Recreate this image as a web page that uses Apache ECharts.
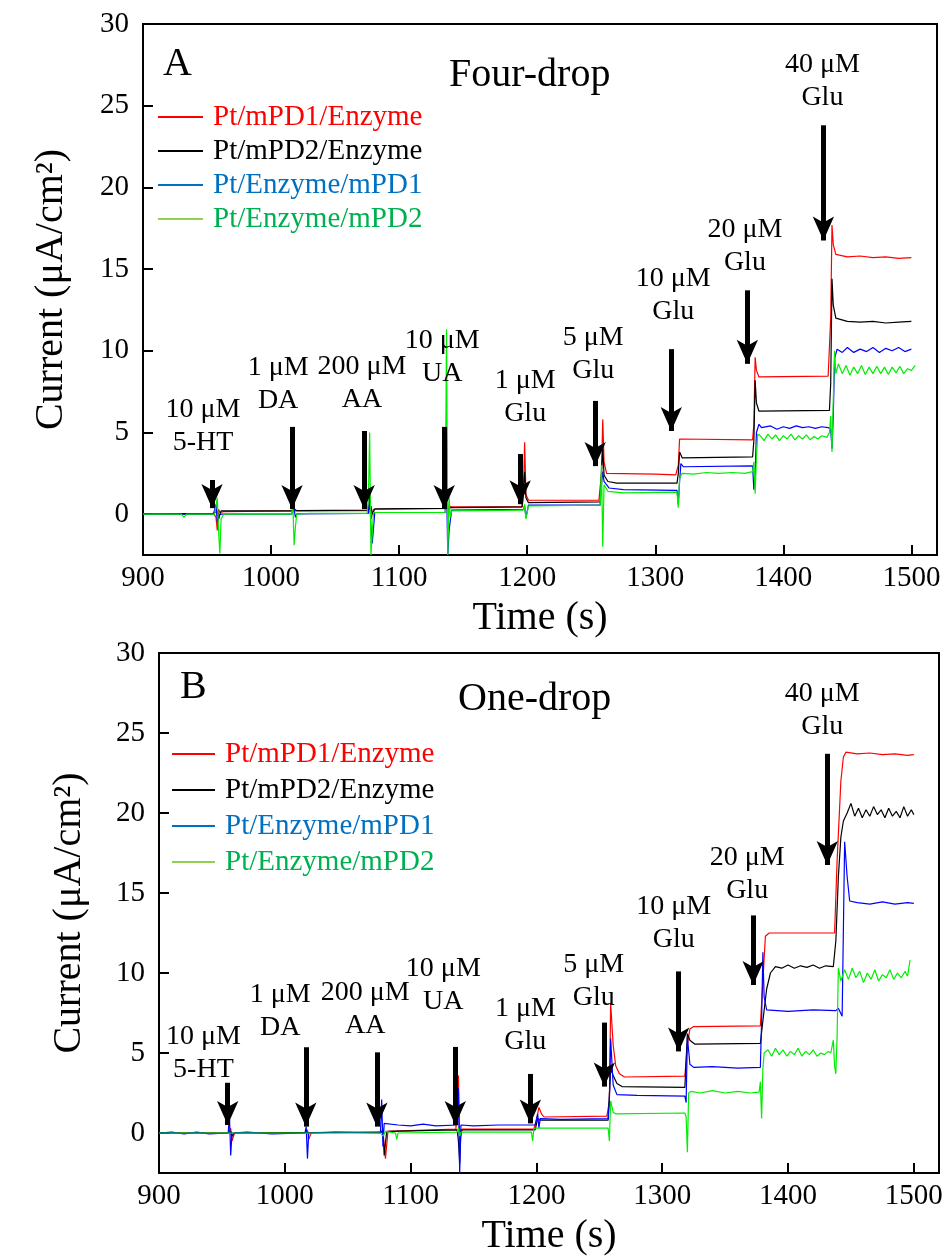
<!DOCTYPE html>
<html><head><meta charset="utf-8">
<script src="https://cdn.jsdelivr.net/npm/echarts@6/dist/echarts.min.js"></script>
<style>html,body{margin:0;padding:0;background:#fff}#c{width:946px;height:1258px}</style>
</head><body><div id="c"></div>
<script>
const FONT = "'Liberation Serif','Times New Roman',serif";
const seriesNames = ['Pt/mPD1/Enzyme', 'Pt/mPD2/Enzyme', 'Pt/Enzyme/mPD1', 'Pt/Enzyme/mPD2'];
const lineColors = ['#ff0000', '#000000', '#0000ff', '#00ee00'];
const legendLineColors = ['#ff0000', '#000000', '#0070c0', '#92d050'];
const legendTextColors = ['#ff0000', '#000000', '#0070c0', '#00b050'];
const xTicks = [900, 1000, 1100, 1200, 1300, 1400, 1500];
const yTicks = [0, 5, 10, 15, 20, 25, 30];
const panelTags = ['A', 'B'];
const panelTitles = ['Four-drop', 'One-drop'];

// Panel A (four-drop) traces: [time s, current µA/cm²]
const redA = [[900,0],[950,0],[955,0.05],[957,-0.2],[958,-1.0],[959,0.3],[960,0.1],[963,0.15],[1016,0.2],[1017,0.1],[1018,0.4],[1019,0.2],[1075,0.22],[1077,0.6],[1078,-0.3],[1080,0.3],[1135,0.35],[1136,0.6],[1137,5.3],[1138,-0.8],[1139,0.5],[1141,0.45],[1196,0.45],[1197,1.0],[1198,4.4],[1199,1.2],[1201,0.85],[1256,0.85],[1258,2.5],[1259,5.8],[1260,3.2],[1262,2.5],[1300,2.45],[1316,2.4],[1318,3.0],[1319,4.6],[1320,4.5],[1376,4.55],[1377,5.5],[1378,9.6],[1379,8.8],[1381,8.4],[1435,8.45],[1437,12],[1438,17.7],[1439,16.5],[1441,15.9],[1450,15.75],[1460,15.8],[1470,15.7],[1480,15.75],[1490,15.65],[1500,15.7]];
const blackA = [[900,0],[955,0.05],[958,0.2],[959,-0.3],[961,0.2],[1016,0.2],[1018,0.3],[1020,0.22],[1076,0.25],[1078,0.5],[1079,0],[1081,0.32],[1136,0.35],[1137,1.0],[1138,0.2],[1140,0.4],[1196,0.45],[1198,2.6],[1199,1.0],[1201,0.7],[1257,0.75],[1258,2.5],[1259,4.0],[1260,2.4],[1263,2.0],[1270,1.9],[1317,1.9],[1318,2.5],[1319,3.8],[1321,3.45],[1376,3.5],[1377,4.5],[1378,8.2],[1379,6.8],[1381,6.3],[1436,6.35],[1437,8],[1438,14.4],[1439,12.8],[1441,12.0],[1450,11.8],[1460,11.75],[1470,11.8],[1480,11.7],[1490,11.75],[1500,11.8]];
const blueA = [[900,0],[955,0],[957,0.6],[958,-0.5],[960,0],[1016,0],[1018,0.3],[1019,-0.2],[1020,0.02],[1076,0.05],[1077,1.2],[1078,-0.8],[1079,-1.8],[1081,0.1],[1136,0.1],[1137,2.0],[1138,-2.5],[1139,-1],[1141,0.25],[1197,0.3],[1198,0.5],[1199,-0.2],[1201,0.55],[1257,0.55],[1258,1.8],[1259,2.6],[1260,2.0],[1264,1.6],[1275,1.5],[1317,1.45],[1318,0.6],[1319,2.0],[1320,3.1],[1322,2.9],[1376,2.95],[1377,1.5],[1378,2.5],[1379,5.0],[1381,5.5],[1383,5.3],[1390,5.4],[1395,5.2],[1400,5.35],[1405,5.25],[1410,5.4],[1415,5.3],[1420,5.35],[1425,5.25],[1430,5.35],[1435,5.3],[1437,5.2],[1438,4.0],[1439,6],[1440,9.5],[1442,10.1],[1446,9.9],[1450,10.2],[1455,9.9],[1460,10.1],[1465,9.95],[1470,10.2],[1475,9.9],[1480,10.15],[1485,10.0],[1490,10.2],[1495,9.95],[1500,10.1]];
const greenA = [[900,0],[930,0],[932,-0.2],[934,0],[956,0],[958,1.0],[959,-1.0],[960,-2.4],[961,-0.3],[963,0],[1016,0],[1017,0.6],[1018,-1.9],[1019,-0.8],[1020,0],[1030,0.05],[1075,0.05],[1076,1.0],[1077,5.0],[1078,-2.5],[1079,-1.2],[1080,0.1],[1136,0.1],[1137,11.3],[1138,-2.5],[1139,1.0],[1140,-0.2],[1141,0.2],[1197,0.25],[1198,0.6],[1199,-0.3],[1201,0.5],[1257,0.55],[1258,3.0],[1259,-2.0],[1260,1.8],[1263,1.4],[1275,1.3],[1317,1.35],[1318,0.4],[1319,2.2],[1321,2.5],[1330,2.45],[1340,2.55],[1350,2.5],[1360,2.55],[1370,2.5],[1376,2.6],[1377,3.2],[1378,1.25],[1379,3.5],[1380,4.9],[1382,4.8],[1385,4.5],[1388,4.9],[1391,4.6],[1394,4.85],[1397,4.5],[1400,4.8],[1403,4.6],[1406,4.9],[1409,4.55],[1412,4.8],[1415,4.6],[1418,4.85],[1421,4.55],[1424,4.75],[1427,4.6],[1430,4.8],[1434,4.7],[1436,5.0],[1437,6],[1438,3.8],[1439,7.0],[1440,10.0],[1441,8.6],[1443,9.2],[1446,8.6],[1449,9.1],[1452,8.5],[1455,9.0],[1458,8.6],[1461,9.1],[1464,8.55],[1467,9.0],[1470,8.6],[1473,9.05],[1476,8.6],[1479,9.0],[1482,8.55],[1485,9.0],[1488,8.65],[1491,9.05],[1494,8.6],[1497,8.9],[1500,8.8],[1502,9.0],[1503,9.1]];

// Panel B (one-drop) traces
const redB = [[900,0],[955,0],[957,0.3],[958,-0.5],[960,0],[1016,0],[1018,0.2],[1019,-0.4],[1021,0],[1076,0.05],[1078,0.1],[1080,-1.6],[1082,0.1],[1100,0.15],[1136,0.25],[1138,3.6],[1139,-0.5],[1141,0.25],[1198,0.25],[1200,0.8],[1202,1.6],[1204,1.2],[1206,1.0],[1256,1.05],[1258,2.0],[1259,8.1],[1261,5.5],[1263,4.2],[1266,3.7],[1270,3.5],[1318,3.55],[1320,5.5],[1322,6.5],[1325,6.65],[1378,6.7],[1380,9.5],[1382,12.3],[1385,12.5],[1437,12.5],[1439,17],[1442,22],[1444,23.5],[1446,23.8],[1455,23.7],[1465,23.75],[1475,23.65],[1485,23.7],[1495,23.6],[1500,23.65]];
const blackB = [[900,0],[955,0],[957,0.1],[958,-0.2],[960,0],[1077,0.05],[1078,0.3],[1079,-1.4],[1081,0.1],[1137,0.2],[1138,-0.5],[1139,-1.9],[1140,0.2],[1199,0.2],[1201,0.9],[1203,0.8],[1257,0.8],[1259,4.0],[1261,3.6],[1264,3.1],[1268,2.9],[1318,2.85],[1320,6.2],[1322,5.8],[1326,5.55],[1378,5.6],[1380,7.0],[1383,9.0],[1386,10.0],[1390,10.4],[1395,10.3],[1400,10.5],[1405,10.3],[1410,10.45],[1415,10.35],[1420,10.5],[1425,10.3],[1430,10.45],[1436,10.4],[1438,12],[1440,16],[1442,18.5],[1444,19.5],[1447,20.0],[1450,20.6],[1453,19.8],[1456,20.3],[1459,19.7],[1462,20.2],[1465,19.8],[1468,20.4],[1471,19.9],[1474,20.2],[1477,19.7],[1480,20.3],[1483,19.8],[1486,20.1],[1489,19.7],[1492,20.4],[1495,19.8],[1498,20.2],[1500,19.9]];
const blueB = [[900,0],[910,0.05],[920,-0.05],[930,0.05],[940,-0.05],[955,0],[956,1.1],[957,-1.4],[958,0],[970,0.05],[990,-0.05],[1016,0],[1017,0.4],[1018,-1.6],[1019,0],[1040,0.05],[1076,0],[1077,2.1],[1078,-0.85],[1079,0.6],[1080,0.55],[1090,0.5],[1100,0.45],[1110,0.55],[1120,0.45],[1137,0.5],[1138,2.8],[1139,-2.5],[1140,0.5],[1150,0.45],[1170,0.5],[1199,0.5],[1200,0.4],[1201,1.2],[1202,0.3],[1203,0.9],[1220,0.85],[1257,0.9],[1258,2.0],[1259,5.9],[1261,3.0],[1264,2.4],[1280,2.35],[1318,2.3],[1319,1.9],[1320,6.0],[1322,4.3],[1325,4.1],[1340,4.15],[1360,4.05],[1378,4.1],[1379,7.0],[1380,11.3],[1381,8.5],[1383,7.7],[1400,7.6],[1420,7.7],[1438,7.65],[1440,7.8],[1443,7.3],[1445,18.2],[1447,16],[1449,14.5],[1455,14.4],[1465,14.3],[1475,14.45],[1485,14.3],[1495,14.4],[1500,14.35]];
const greenB = [[900,0],[1076,0],[1078,-0.2],[1080,0.1],[1088,0],[1089,-0.4],[1090,0],[1137,0.05],[1138,0.3],[1139,-0.2],[1140,0.05],[1196,0.05],[1197,-0.5],[1198,0.3],[1199,0.3],[1257,0.3],[1258,-0.5],[1259,2.0],[1261,1.3],[1263,1.2],[1318,1.25],[1319,1.0],[1320,-1.2],[1321,2.5],[1323,2.6],[1330,2.5],[1340,2.65],[1350,2.5],[1360,2.6],[1370,2.5],[1377,2.55],[1378,3.2],[1379,0.9],[1380,4.0],[1381,5.0],[1384,5.2],[1387,4.8],[1390,5.3],[1393,4.9],[1396,5.2],[1399,4.8],[1402,5.1],[1405,4.9],[1408,5.3],[1411,4.8],[1414,5.1],[1417,4.9],[1420,5.2],[1423,4.8],[1426,5.0],[1429,4.9],[1432,5.1],[1434,5.0],[1436,5.8],[1437,4.2],[1438,3.7],[1439,6.0],[1440,10.3],[1442,9.5],[1445,10.2],[1448,9.6],[1451,10.3],[1454,9.7],[1457,10.1],[1460,9.4],[1463,10.0],[1466,9.6],[1469,10.2],[1472,9.5],[1475,9.9],[1478,9.7],[1481,10.2],[1484,9.6],[1487,10.0],[1490,9.7],[1493,10.1],[1495,9.8],[1497,10.8]];

// Injection annotations
const injLabels = ['10 μM\n5-HT', '1 μM\nDA', '200 μM\nAA', '10 μM\nUA', '1 μM\nGlu', '5 μM\nGlu', '10 μM\nGlu', '20 μM\nGlu', '40 μM\nGlu'];
// label anchor [time, current]
const labelPosA = [[946.9,5.4],[1005.5,7.94],[1071,8.04],[1133.6,9.63],[1198.4,7.18],[1251.6,9.8],[1314,13.4],[1370,16.4],[1430.5,26.5]];
const labelPosB = [[935.3,4.98],[996.3,7.6],[1063.9,7.75],[1126,9.25],[1191.2,6.75],[1245.5,9.46],[1309.2,13.1],[1367.5,16.2],[1427.2,26.4]];
// arrows [time, tail current, tip current]
const arrowsA = [[953.9,2.09,0.37],[1016.4,5.34,0.31],[1072.7,5.09,0.31],[1135.2,5.34,0.31],[1194.5,3.68,0.61],[1253.1,6.93,2.94],[1312.5,10.1,5.09],[1371.9,13.7,9.2],[1431.3,23.8,16.75]];
const arrowsB = [[954.6,3.14,0.5],[1016.7,5.36,0.4],[1073.2,5.04,0.4],[1135.5,5.38,0.5],[1195.2,3.69,0.6],[1254,6.9,2.9],[1313.1,10.1,5.1],[1372.3,13.6,9.25],[1431.2,23.7,16.75]];

const tracesA = [redA, blackA, blueA, greenA];
const tracesB = [redB, blackB, blueB, greenB];

const grids = [
  {left: 143, top: 24, width: 794, height: 531},
  {left: 159, top: 653, width: 780, height: 520}
];

function xAxisFor(i) {
  return {
    gridIndex: i, type: 'value', min: xTicks[0], max: 1520,
    minInterval: xTicks[1]-xTicks[0], maxInterval: xTicks[1]-xTicks[0], splitNumber: 6,
    name: 'Time (s)', nameLocation: 'middle', nameGap: 43,
    nameTextStyle: {fontFamily: FONT, fontSize: 40, color: '#000'},
    axisLine: {onZero: false, lineStyle: {color: '#000', width: 2}},
    axisTick: {inside: true, length: 10, lineStyle: {color: '#000', width: 2}},
    axisLabel: {fontFamily: FONT, fontSize: 29, color: '#000', margin: 9, showMaxLabel: false,
      formatter: v => String(v)},
    splitLine: {show: false}
  };
}
function yAxisFor(i) {
  return {
    gridIndex: i, type: 'value', min: -2.5, max: yTicks[yTicks.length-1],
    minInterval: 5, maxInterval: 5, splitNumber: 6,
    name: 'Current (μA/cm²)', nameLocation: 'middle', nameGap: i === 0 ? 72 : 70,
    nameTextStyle: {fontFamily: FONT, fontSize: 40, color: '#000'},
    axisLine: {onZero: false, lineStyle: {color: '#000', width: 2}},
    axisTick: {inside: true, length: 10, lineStyle: {color: '#000', width: 2}},
    axisLabel: {fontFamily: FONT, fontSize: 29, color: '#000', margin: 14, showMinLabel: false,
      formatter: v => String(v)},
    splitLine: {show: false}
  };
}

const series = [];
[tracesA, tracesB].forEach((traces, p) => {
  traces.forEach((d, k) => {
    series.push({
      type: 'line', name: seriesNames[k], xAxisIndex: p, yAxisIndex: p,
      data: d, showSymbol: false, symbol: 'none', animation: false,
      lineStyle: {color: lineColors[k], width: 1.2}, itemStyle: {color: lineColors[k]}, z: 2
    });
  });
  const lp = p === 0 ? labelPosA : labelPosB;
  const ar = p === 0 ? arrowsA : arrowsB;
  series.push({
    type: 'scatter', xAxisIndex: p, yAxisIndex: p, symbolSize: 1, silent: true, z: 5,
    animation: false, itemStyle: {opacity: 0, color: '#000'},
    data: lp.map((pos, j) => ({value: pos, name: injLabels[j]})),
    label: {show: true, position: 'inside', formatter: '{b}', fontFamily: FONT, fontSize: 28,
      lineHeight: 33, color: '#000', opacity: 1, align: 'center', verticalAlign: 'middle',
      textBorderWidth: 0},
    markLine: {
      silent: true, animation: false, symbol: ['none', 'arrow'], symbolSize: [16, 24],
      lineStyle: {color: '#000', width: 5, type: 'solid', opacity: 1}, label: {show: false},
      data: ar.map(a => [{coord: [a[0], a[1]]}, {coord: [a[0], a[2]]}])
    }
  });
});

function legendFor(p) {
  return {
    orient: 'vertical', left: p === 0 ? 158 : 172, top: p === 0 ? 102 : 739,
    itemWidth: p === 0 ? 45 : 43, itemHeight: 2, itemGap: p === 0 ? 4 : 6, icon: 'rect',
    selectedMode: false, padding: 0,
    textStyle: {fontFamily: FONT, fontSize: 29, lineHeight: 30, padding: [0, 0, 0, 5]},
    data: seriesNames.map((n, k) => ({
      name: n, itemStyle: {color: legendLineColors[k]},
      textStyle: {color: legendTextColors[k]}
    }))
  };
}

const option = {
  backgroundColor: '#fff',
  animation: false,
  grid: grids.map(g => Object.assign({show: true, borderColor: '#000', borderWidth: 2, backgroundColor: 'transparent'}, g)),
  xAxis: [xAxisFor(0), xAxisFor(1)],
  yAxis: [yAxisFor(0), yAxisFor(1)],
  legend: [legendFor(0), legendFor(1)],
  graphic: [
    {type: 'text', left: 163, top: 44, style: {text: panelTags[0], font: '40px ' + FONT, fill: '#000'}},
    {type: 'text', left: 449, top: 55, style: {text: panelTitles[0], font: '40px ' + FONT, fill: '#000'}},
    {type: 'text', left: 180, top: 667, style: {text: panelTags[1], font: '40px ' + FONT, fill: '#000'}},
    {type: 'text', left: 458, top: 679, style: {text: panelTitles[1], font: '40px ' + FONT, fill: '#000'}}
  ],
  series: series
};
const chart = echarts.init(document.getElementById('c'), null, {renderer: 'canvas'});
chart.setOption(option);
</script></body></html>
